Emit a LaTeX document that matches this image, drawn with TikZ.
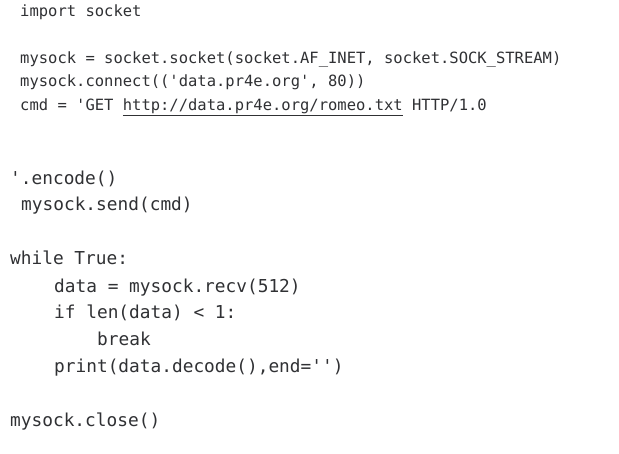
\documentclass[tikz,border=0pt]{standalone}
\usepackage{fontspec}
\setmonofont{DejaVu Sans Mono}
\definecolor{codeink}{HTML}{303134}
\begin{document}
\begin{tikzpicture}[x=1pt,y=-1pt,
  small/.style={anchor=base west,inner sep=0pt,text=codeink,font=\ttfamily\fontsize{15.5}{18}\selectfont},
  big/.style={anchor=base west,inner sep=0pt,text=codeink,font=\ttfamily\fontsize{17.8}{20}\selectfont}]
\useasboundingbox[fill=white] (0,0) rectangle (619,453);
\node[small] (l1) at (20,16) {import socket};
\node[small] (l2) at (20,63) {mysock = socket.socket(socket.AF\_INET, socket.SOCK\_STREAM)};
\node[small] (l3) at (20,86) {mysock.connect(('data.pr4e.org', 80))};
\node[small] (l4) at (20,110) {cmd = 'GET \underline{http://data.pr4e.org/romeo.txt} HTTP/1.0};
\node[big] (l5) at (10,184) {'.encode()};
\node[big] (l6) at (21,210) {mysock.send(cmd)};
\node[big] (l7) at (10,264) {while True:};
\node[big] (l8) at (54,292) {data = mysock.recv(512)};
\node[big] (l9) at (54,318) {if len(data) < 1:};
\node[big] (l10) at (97,345) {break};
\node[big] (l11) at (54,372) {print(data.decode(),end='')};
\node[big] (l12) at (10,426) {mysock.close()};
\end{tikzpicture}
\end{document}
